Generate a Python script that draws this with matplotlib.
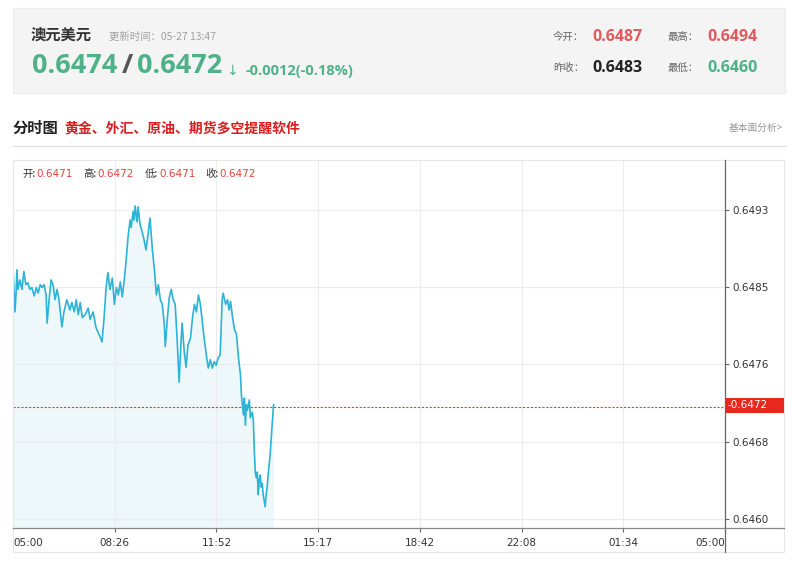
import numpy as np
import matplotlib
matplotlib.use('Agg')
import matplotlib.pyplot as plt
from matplotlib.patches import Rectangle
from matplotlib.lines import Line2D

plt.rcParams['font.family'] = ['Noto Sans CJK SC', 'DejaVu Sans']

# 分时数据: 05:00 起的分钟数, 价格
minutes = [0, 2, 4, 6, 8, 10, 14, 18, 22, 26, 30, 34, 38, 43, 47, 51, 55, 59, 63, 67,
           69, 73, 77, 81, 85, 89, 93, 99, 103, 109, 115, 119, 124, 128, 132, 136, 140, 146, 152, 156,
           162, 168, 174, 180, 184, 188, 192, 196, 201, 205, 209, 213, 217, 221, 225, 229, 233, 237, 239, 243,
           245, 247, 251, 253, 257, 261, 265, 269, 273, 277, 282, 286, 290, 294, 298, 302, 306, 308, 312, 316,
           320, 324, 328, 332, 336, 340, 342, 346, 350, 354, 359, 363, 367, 371, 375, 379, 383, 387, 391, 395,
           399, 403, 407, 411, 415, 419, 423, 425, 430, 434, 437, 440, 444, 448, 452, 456, 460, 462, 464, 466,
           468, 470, 472, 474, 478, 480, 484, 486, 488, 490, 492, 494, 496, 498, 500, 502, 504, 506, 510, 512,
           514, 516, 520, 522, 524, 527]
prices = [0.64868, 0.64845, 0.64821, 0.64839, 0.64866, 0.64845, 0.64855, 0.64845, 0.64864, 0.64850,
          0.64852, 0.64845, 0.64847, 0.64838, 0.64847, 0.64841, 0.64850, 0.64847, 0.64850, 0.64839,
          0.64809, 0.64834, 0.64855, 0.64850, 0.64834, 0.64845, 0.64834, 0.64805, 0.64821, 0.64834,
          0.64823, 0.64831, 0.64821, 0.64834, 0.64818, 0.64831, 0.64815, 0.64818, 0.64825, 0.64813,
          0.64821, 0.64804, 0.64797, 0.64789, 0.64813, 0.64845, 0.64863, 0.64845, 0.64857, 0.64829,
          0.64847, 0.64839, 0.64853, 0.64837, 0.64855, 0.64877, 0.64903, 0.64919, 0.64911, 0.64928,
          0.64919, 0.64934, 0.64917, 0.64933, 0.64914, 0.64907, 0.64898, 0.64887, 0.64903, 0.64921,
          0.64887, 0.64866, 0.64839, 0.64850, 0.64834, 0.64829, 0.64807, 0.64784, 0.64813, 0.64836,
          0.64845, 0.64834, 0.64829, 0.64791, 0.64746, 0.64791, 0.64809, 0.64781, 0.64762, 0.64786,
          0.64793, 0.64815, 0.64829, 0.64821, 0.64839, 0.64829, 0.64810, 0.64791, 0.64775, 0.64761,
          0.64770, 0.64761, 0.64768, 0.64764, 0.64772, 0.64775, 0.64834, 0.64841, 0.64829, 0.64834,
          0.64823, 0.64832, 0.64815, 0.64802, 0.64797, 0.64772, 0.64754, 0.64732, 0.64722, 0.64711,
          0.64729, 0.64700, 0.64722, 0.64716, 0.64727, 0.64708, 0.64714, 0.64706, 0.64674, 0.64650,
          0.64644, 0.64650, 0.64626, 0.64642, 0.64647, 0.64634, 0.64638, 0.64626, 0.64613, 0.64626,
          0.64634, 0.64647, 0.64668, 0.64684, 0.64700, 0.64722]

x_labels = ['05:00', '08:26', '11:52', '15:17', '18:42', '22:08', '01:34', '05:00']
y_labels = ['0.6460', '0.6468', '0.6476', '0.6485', '0.6493']
last_price = 0.6472

W, H = 800, 569
fig = plt.figure(figsize=(8, 5.69), dpi=100)
fig.patch.set_facecolor('white')

num_font = ['Open Sans', 'DejaVu Sans']
tick_font = ['DejaVu Sans']


def px(x, y):
    return x / W, 1 - y / H


def ftext(x, y, s, **kw):
    kw.setdefault('va', 'center')
    fig.text(x / W, 1 - y / H, s, **kw)


# 顶部报价区
fig.patches.append(Rectangle(px(13, 93), 772 / W, 85 / H, transform=fig.transFigure,
                             facecolor='#f4f4f4', edgecolor='#ebebeb', lw=0.8, zorder=0))
green = '#4eb18a'
red = '#e05c5c'
ftext(31, 36, '澳元美元', fontsize=11, fontweight='bold', color='#333333')
ftext(109, 37, '更新时间：05-27 13:47', fontsize=7.5, color='#a0a0a0')
ftext(32, 66, '0.6474', fontsize=19.5, fontweight='bold', color=green, family=num_font)
ftext(127, 66, '/', fontsize=19.5, fontweight='bold', color='#555555', family=num_font, ha='center')
ftext(137, 66, '0.6472', fontsize=19.5, fontweight='bold', color=green, family=num_font)
ftext(232, 71, '↓', fontsize=10, color=green, family=['DejaVu Sans'], ha='center')
ftext(246, 71, '-0.0012(-0.18%)', fontsize=10.5, fontweight='bold', color=green, family=num_font)

ftext(553, 37, '今开：', fontsize=7.5, color='#666666')
ftext(592, 37, '0.6487', fontsize=11.5, fontweight='bold', color=red, family=num_font)
ftext(668, 37, '最高：', fontsize=7.5, color='#666666')
ftext(707, 37, '0.6494', fontsize=11.5, fontweight='bold', color=red, family=num_font)
ftext(553, 68, '昨收：', fontsize=7.5, color='#666666')
ftext(592, 68, '0.6483', fontsize=11.5, fontweight='bold', color='#222222', family=num_font)
ftext(668, 68, '最低：', fontsize=7.5, color='#666666')
ftext(707, 68, '0.6460', fontsize=11.5, fontweight='bold', color=green, family=num_font)

# 分时图 标题
ftext(13, 128, '分时图', fontsize=11, fontweight='bold', color='#222222')
ftext(64, 128, '黄金、外汇、原油、期货多空提醒软件', fontsize=10, fontweight='bold', color='#d91e1e')
ftext(783, 128, '基本面分析>', fontsize=7, color='#999999', ha='right')
fig.lines.append(Line2D([13 / W, 785 / W], [1 - 146 / H] * 2, transform=fig.transFigure,
                        color='#dddddd', lw=0.8))

# 开高低收
ohlc = [('开:', '0.6471', 22), ('高:', '0.6472', 83), ('低:', '0.6471', 145), ('收:', '0.6472', 205)]
for lab, val, x0 in ohlc:
    ftext(x0, 174, lab, fontsize=7.5, color='#333333')
    ftext(x0 + 14, 174, val, fontsize=7.5, color='#e0443e', family=tick_font)

# 图表外框
fig.patches.append(Rectangle(px(13, 552), 771 / W, 392 / H, transform=fig.transFigure,
                             facecolor='none', edgecolor='#e6e6e6', lw=0.8, zorder=0))

ax = fig.add_axes([13 / W, 1 - 528 / H, 712 / W, 368 / H])
t = np.array(minutes)
p = np.array(prices)

y_pos = np.linspace(float(y_labels[0]), float(y_labels[-1]), len(y_labels))
step = (y_pos[-1] - y_pos[0]) / 309.3
ax.set_ylim(y_pos[0] - 9 * step, y_pos[0] + 359 * step)
ax.set_xlim(0, 1440)

ax.fill_between(t, p, ax.get_ylim()[0], color='#eef8fb', lw=0, zorder=1)
ax.plot(t, p, color='#2cb3d6', lw=1.2, zorder=3)
ax.axhline(last_price, color='#e03a3a', lw=0.8, ls=(0, (2, 1.5)), zorder=2)

ax.set_xticks(np.linspace(0, 1440, len(x_labels)))
ax.set_xticklabels(x_labels, fontsize=7.5, color='#333333', family=tick_font)
tl = ax.get_xticklabels()
tl[0].set_ha('left')
tl[-1].set_ha('right')
ax.set_yticks(y_pos)
ax.set_yticklabels(y_labels, fontsize=7.5, color='#333333', family=tick_font)
ax.yaxis.tick_right()
ax.tick_params(axis='both', length=3, width=0.8, color='#666666', pad=2)
ax.tick_params(axis='x', pad=4)
ax.grid(True, color='#ececec', lw=0.8, zorder=0)
for s in ['top', 'left', 'right', 'bottom']:
    ax.spines[s].set_visible(False)

# 坐标轴线 (延伸到外框)
fig.lines.append(Line2D([725 / W] * 2, [1 - 160 / H, 1 - 552 / H], transform=fig.transFigure,
                        color='#666666', lw=0.9))
fig.lines.append(Line2D([13 / W, 784 / W], [1 - 528 / H] * 2, transform=fig.transFigure,
                        color='#888888', lw=0.9))

# 最新价标签
fig.patches.append(Rectangle(px(726, 413), 58 / W, 15 / H, transform=fig.transFigure,
                             facecolor='#e8281e', edgecolor='none', zorder=5))
fig.text(728 / W, 1 - 405.5 / H, '-' + f'{last_price:.4f}', fontsize=7.5, color='white',
         va='center', ha='left', family=tick_font, zorder=6)

fig.savefig('out.png', dpi=100)
